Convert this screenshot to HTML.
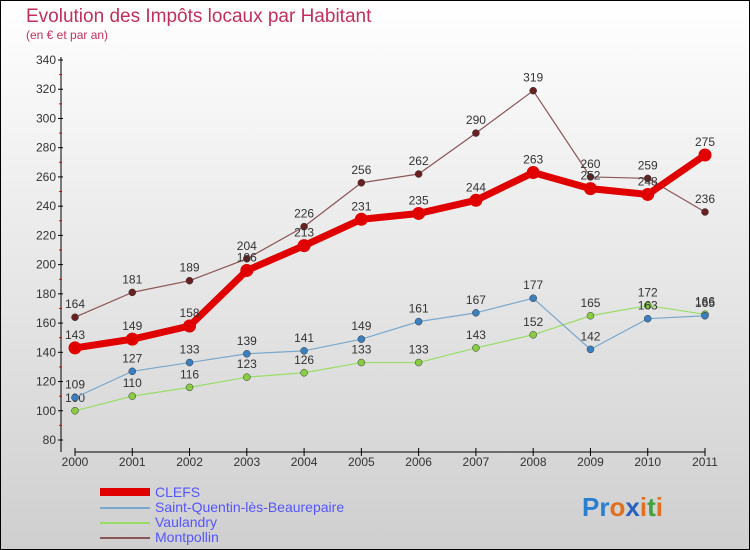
<!DOCTYPE html>
<html><head><meta charset="utf-8"><style>
body{margin:0}
#c{width:750px;height:550px;position:relative;box-sizing:border-box;border:1px solid #000;background:linear-gradient(#ffffff,#cfcfcf);font-family:"Liberation Sans",sans-serif;overflow:hidden}
</style></head><body>
<div id="c">
<svg id="s" width="750" height="550" style="position:absolute;left:-1px;top:-1px">
<text x="26" y="22" font-size="19" fill="#c0305a">Evolution des Impôts locaux par Habitant</text>
<text x="26" y="39" font-size="12" fill="#c0305a">(en € et par an)</text>
<g id="axes"></g><g id="series"></g>
<g font-size="14" fill="#5555ff">
<rect x="100" y="488" width="50" height="8" fill="#e00000"/>
<text x="155" y="497">CLEFS</text>
<rect x="100" y="507" width="50" height="2" fill="#7aa8cc"/>
<text x="155" y="512">Saint-Quentin-lès-Beaurepaire</text>
<rect x="100" y="522" width="50" height="2" fill="#99dd66"/>
<text x="155" y="527">Vaulandry</text>
<rect x="100" y="537" width="50" height="2" fill="#8a5555"/>
<text x="155" y="542">Montpollin</text>
</g>
<text x="582" y="516" font-size="26" font-weight="bold"><tspan fill="#2a7fd0">Pr</tspan><tspan fill="#e07020">o</tspan><tspan fill="#2a60c0">x</tspan><tspan fill="#e07020">i</tspan><tspan fill="#40a040">t</tspan><tspan fill="#e07020">i</tspan></text>
</svg>
</div>
<script>
const years=["2000","2001","2002","2003","2004","2005","2006","2007","2008","2009","2010","2011"];
const yTicks=[80,100,120,140,160,180,200,220,240,260,280,300,320,340];
const clefs=[143,149,158,196,213,231,235,244,263,252,248,275];
const saintQuentin=[109,127,133,139,141,149,161,167,177,142,163,165];
const vaulandry=[100,110,116,123,126,133,133,143,152,165,172,166];
const montpollin=[164,181,189,204,226,256,262,290,319,260,259,236];
const NS="http://www.w3.org/2000/svg";
const x=i=>75+i*(630/11);
const y=v=>440-(v-80)*(380/260);
function mk(t,a,p){const e=document.createElementNS(NS,t);for(const k in a)e.setAttribute(k,a[k]);p.appendChild(e);return e;}
const ax=document.getElementById('axes');
let l=mk('line',{x1:61,y1:57,x2:61,y2:452,stroke:'#000','stroke-width':1},ax);


l=mk('line',{x1:75,y1:452,x2:705,y2:452,stroke:'#000','stroke-width':1},ax);


yTicks.forEach((v,i)=>{
 mk('line',{x1:58,y1:y(v),x2:63,y2:y(v),stroke:'#000'},ax);
 if(i<yTicks.length-1)mk('line',{x1:59,y1:y(v+10),x2:62,y2:y(v+10),stroke:'#e00000'},ax);
 const t=mk('text',{x:56,y:y(v)+4,'font-size':12,'text-anchor':'end',fill:'#333'},ax);
 t.textContent=v;
 
 
});
years.forEach((yr,i)=>{
 mk('line',{x1:x(i),y1:448,x2:x(i),y2:456,stroke:'#000'},ax);
 const t=mk('text',{x:x(i),y:466,'font-size':12,'text-anchor':'middle',fill:'#333'},ax);
 t.textContent=yr;
 
 
});
const sg=document.getElementById('series');
function draw(data,name,col,w,r,dot){
 const g=mk('g',{},sg);
 
 
 const p=mk('polyline',{points:data.map((v,i)=>x(i)+','+y(v)).join(' '),fill:'none',stroke:col,'stroke-width':w,'stroke-linejoin':'round'},g);
 
 
 data.forEach((v,i)=>{
  const c=mk('circle',{cx:x(i),cy:y(v),r:r,fill:dot,stroke:w>3?'none':'#333','stroke-width':0.5},g);
  
  
  const t=mk('text',{x:x(i),y:y(v)-9,'font-size':12,'text-anchor':'middle',fill:'#333'},g);
  t.textContent=v;
  
  
 });
}
draw(vaulandry,'vaulandry','#99dd66',1.2,3.5,'#88cc44');
draw(saintQuentin,'saint-quentin','#7aa8cc',1.2,3.5,'#3a7fc0');
draw(montpollin,'montpollin','#8a5555',1.2,3.5,'#6a2020');
draw(clefs,'clefs','#e00000',7,6.5,'#e00000');
</script>
</body></html>
